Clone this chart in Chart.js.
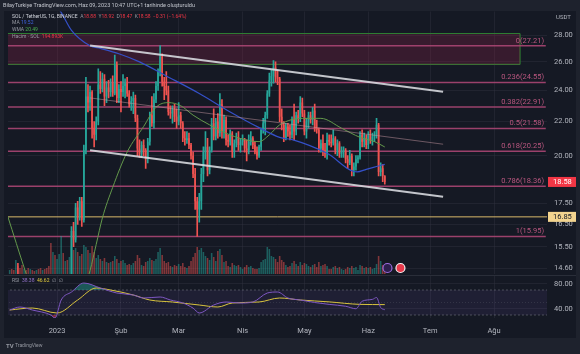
<!DOCTYPE html>
<html>
<head>
<meta charset="utf-8">
<script src="https://cdn.jsdelivr.net/npm/chart.js@4.4.0/dist/chart.umd.min.js"></script>
<style>
  html, body { margin: 0; padding: 0; background: #1e222d; }
  #wrap { position: relative; width: 580px; height: 354px; overflow: hidden; }
  #wrap canvas { position: absolute; left: 0; top: 0; }
</style>
</head>
<body>
<div id="wrap">
  <canvas id="priceChart" width="580" height="354"></canvas>
  <canvas id="rsiChart" width="580" height="354"></canvas>
</div>
<script>
// day 0 = 1 Jan 2023, first candle = 9 Dec 2022
const startDay = -23;
const monthDays = [0, 31, 59, 90, 120, 151, 181, 212];
const monthLabels = ["2023", "Şub", "Mar", "Nis", "May", "Haz", "Tem", "Ağu"];
const priceTicks = [28, 26, 24, 22, 20, 17.5, 16.5, 15.5, 14.6];
const rsiTicks = [80, 40];

const opens = [
  13.5, 13.7, 13.6, 13.4, 14.1, 14.0, 13.3, 12.1, 12.6, 12.2, 11.6, 11.9, 11.7, 11.6, 11.7, 11.6, 11.4, 11.5, 11.1, 10.5, 10.0, 9.4, 10.1,
  9.96, 10.0, 11.3, 13.3, 13.0, 13.4, 13.3, 13.6, 16.2, 15.8,
  17.3, 16.9, 17.6, 16.7, 20.3, 23.6, 23.2, 23.9, 21.6, 21.2,
  22.0, 24.4, 24.1, 24.8, 23.6, 24.2, 23.9, 24.5, 23.8, 25.8,
  23.5, 24.1, 23.9, 24.3, 24.5, 23.8, 23.1, 23.3, 23.5, 22.2,
  20.4, 20.1, 20.6, 20.3, 19.8, 20.8, 22.4, 21.9, 23.4, 24.3,
  25.3, 26.4, 24.6, 24.3, 24.0, 22.6, 22.5, 22.8, 22.3, 22.0,
  22.4, 21.9, 21.0, 20.9, 21.0, 20.6, 20.0, 19.0, 17.6, 17.2,
  17.6, 19.0, 20.2, 20.5, 19.2, 20.3, 21.9, 21.1, 22.0, 21.3,
  23.1, 21.4, 22.1, 20.9, 20.8, 21.3, 20.2, 20.7, 21.0, 20.6,
  20.8, 20.9, 20.4, 20.3, 20.8, 21.0, 20.6, 20.2, 20.0, 20.5,
  21.5, 21.9, 22.4, 23.8, 24.7, 25.0, 25.6, 24.9, 24.8, 22.3,
  21.8, 21.0, 21.7, 21.4, 21.2, 22.1, 21.4, 22.4, 22.2, 23.2,
  22.5, 21.4, 22.0, 22.4, 22.1, 22.7, 21.6, 21.5, 20.4, 20.7,
  20.3, 20.1, 20.9, 20.8, 20.7, 21.0, 20.3, 20.7, 20.1, 20.2,
  20.3, 19.8, 19.6, 20.0, 19.2, 19.4, 19.8, 19.9, 21.2, 20.8,
  21.0, 20.6, 21.2, 20.9, 21.1, 21.2, 21.8, 19.1, 19.3, 18.88
];
const highs = [
  14.0, 13.9, 13.7, 14.3, 14.8, 14.2, 13.4, 12.7, 12.8, 12.3, 12.0, 12.1, 11.9, 11.8, 11.8, 11.7, 11.6, 11.6, 11.2, 10.6, 10.1, 10.4, 10.3,
  10.4, 11.5, 13.5, 13.9, 13.6, 13.5, 13.8, 16.4, 16.6, 17.5,
  17.6, 17.8, 17.8, 20.6, 24.9, 24.4, 24.3, 24.0, 22.0, 22.3,
  25.5, 25.3, 25.2, 25.1, 24.6, 24.7, 24.8, 25.0, 26.5, 26.0,
  24.4, 24.6, 25.1, 24.8, 24.9, 24.0, 23.6, 23.9, 23.7, 22.4,
  20.9, 20.8, 20.9, 20.4, 21.0, 22.6, 23.6, 23.8, 24.6, 25.5,
  27.21, 26.6, 24.9, 25.3, 24.3, 23.0, 23.0, 23.1, 22.8, 23.2,
  22.6, 22.0, 21.4, 21.4, 21.3, 20.7, 20.2, 19.3, 17.8, 18.0,
  19.3, 20.5, 21.4, 21.0, 20.5, 22.2, 22.8, 22.2, 22.5, 23.8,
  23.4, 22.4, 22.3, 21.2, 21.5, 21.4, 20.9, 21.3, 21.4, 21.0,
  21.2, 21.0, 20.9, 21.2, 21.4, 21.1, 20.8, 20.5, 20.6, 21.6,
  22.2, 22.6, 24.0, 25.2, 25.4, 26.1, 26.0, 25.4, 24.9, 22.8,
  22.0, 21.9, 21.9, 21.8, 22.3, 23.1, 22.6, 22.7, 23.6, 23.5,
  22.7, 22.2, 22.6, 22.6, 22.9, 23.1, 22.1, 21.6, 20.9, 21.2,
  20.7, 21.3, 21.2, 21.2, 21.5, 21.1, 20.9, 20.8, 20.5, 20.5,
  20.4, 20.0, 20.3, 20.1, 19.6, 20.0, 20.0, 21.4, 21.5, 21.3,
  21.2, 21.4, 21.5, 21.3, 21.4, 22.2, 21.9, 19.6, 19.5, 18.92
];
const lows = [
  13.4, 13.4, 13.2, 13.3, 13.8, 13.1, 11.9, 11.9, 12.1, 11.4, 11.5, 11.6, 11.5, 11.4, 11.5, 11.2, 11.2, 10.9, 10.3, 9.8, 8.0, 9.2, 9.6,
  9.9, 9.98, 11.2, 12.4, 12.8, 12.9, 13.2, 13.5, 15.5, 15.7,
  16.5, 16.7, 16.4, 16.6, 20.1, 22.6, 22.7, 21.0, 20.5, 20.9,
  21.8, 23.8, 23.9, 23.0, 23.2, 23.5, 23.6, 23.6, 23.7, 23.2,
  23.2, 22.6, 23.6, 23.5, 23.6, 22.9, 22.7, 22.5, 22.0, 20.0,
  19.9, 19.9, 20.0, 19.3, 19.6, 20.6, 21.7, 21.6, 23.2, 24.0,
  25.0, 24.3, 23.4, 23.7, 22.4, 22.2, 21.9, 22.0, 21.6, 21.8,
  21.6, 20.8, 20.6, 20.7, 20.4, 19.8, 18.8, 17.2, 15.95, 16.6,
  17.2, 18.6, 19.8, 18.9, 19.0, 20.2, 20.9, 20.9, 21.0, 21.1,
  21.0, 21.0, 20.6, 20.5, 20.6, 19.9, 19.9, 20.5, 20.3, 20.2,
  20.6, 20.2, 19.7, 20.1, 20.6, 20.4, 20.1, 19.8, 19.9, 20.3,
  21.3, 21.2, 22.2, 23.6, 24.3, 24.5, 24.6, 24.4, 22.0, 21.5,
  20.8, 20.9, 21.1, 20.9, 21.0, 20.9, 21.2, 21.9, 22.0, 22.3,
  21.2, 21.0, 21.6, 21.9, 21.8, 21.4, 21.3, 20.2, 20.2, 20.0,
  19.9, 19.8, 20.6, 20.5, 20.6, 20.1, 20.0, 19.9, 19.9, 19.9,
  19.6, 19.3, 19.5, 18.9, 18.9, 19.2, 19.6, 19.8, 20.5, 20.5,
  20.4, 20.4, 20.7, 20.6, 20.8, 21.0, 18.9, 18.9, 18.6, 18.47
];
const closes = [
  13.7, 13.6, 13.4, 14.1, 14.0, 13.3, 12.1, 12.6, 12.2, 11.6, 11.9, 11.7, 11.6, 11.7, 11.6, 11.4, 11.5, 11.1, 10.5, 10.0, 9.4, 10.1, 9.96,
  10.0, 11.3, 13.3, 13.0, 13.4, 13.3, 13.6, 16.2, 15.8, 17.3,
  16.9, 17.6, 16.7, 20.3, 23.6, 23.2, 23.9, 21.6, 21.2, 22.0,
  24.4, 24.1, 24.8, 23.6, 24.2, 23.9, 24.5, 23.8, 25.8, 23.5,
  24.1, 23.9, 24.3, 24.5, 23.8, 23.1, 23.3, 23.5, 22.2, 20.4,
  20.1, 20.6, 20.3, 19.8, 20.8, 22.4, 21.9, 23.4, 24.3, 25.3,
  26.4, 24.6, 24.3, 24.0, 22.6, 22.5, 22.8, 22.3, 22.0, 22.4,
  21.9, 21.0, 20.9, 21.0, 20.6, 20.0, 19.0, 17.6, 17.2, 17.6,
  19.0, 20.2, 20.5, 19.2, 20.3, 21.9, 21.1, 22.0, 21.3, 23.1,
  21.4, 22.1, 20.9, 20.8, 21.3, 20.2, 20.7, 21.0, 20.6, 20.8,
  20.9, 20.4, 20.3, 20.8, 21.0, 20.6, 20.2, 20.0, 20.5, 21.5,
  21.9, 22.4, 23.8, 24.7, 25.0, 25.6, 24.9, 24.8, 22.3, 21.8,
  21.0, 21.7, 21.4, 21.2, 22.1, 21.4, 22.4, 22.2, 23.2, 22.5,
  21.4, 22.0, 22.4, 22.1, 22.7, 21.6, 21.5, 20.4, 20.7, 20.3,
  20.1, 20.9, 20.8, 20.7, 21.0, 20.3, 20.7, 20.1, 20.2, 20.3,
  19.8, 19.6, 20.0, 19.2, 19.4, 19.8, 19.9, 21.2, 20.8, 21.0,
  20.6, 21.2, 20.9, 21.1, 21.2, 21.8, 19.1, 19.3, 18.89, 18.58
];
// volume, thousands of SOL
const volumes = [
  160, 200, 160, 560, 320, 240, 360, 200, 160, 240, 200, 160, 120, 160, 200, 240, 160, 200, 240, 320, 1240, 880, 760,
  600, 800, 1520, 840, 520, 560, 680, 1080, 960, 1040,
  880, 720, 800, 1160, 1080, 960, 840, 1120, 880, 640,
  760, 600, 520, 640, 480, 440, 480, 520, 720, 600,
  440, 520, 560, 440, 360, 400, 360, 440, 520, 760,
  640, 360, 320, 480, 520, 640, 560, 520, 600, 880,
  1040, 760, 520, 440, 480, 320, 280, 360, 320, 400,
  320, 440, 280, 240, 320, 520, 680, 840, 1080, 960,
  1040, 880, 720, 640, 560, 840, 680, 520, 920, 1000,
  760, 480, 520, 320, 280, 440, 360, 320, 360, 280,
  200, 280, 360, 280, 320, 240, 200, 200, 240, 480,
  560, 600, 1080, 1000, 720, 680, 600, 480, 720, 560,
  480, 360, 280, 320, 440, 520, 400, 320, 480, 360,
  440, 400, 320, 280, 360, 400, 280, 480, 320, 360,
  400, 320, 200, 200, 280, 320, 240, 280, 200, 160,
  200, 280, 240, 320, 240, 280, 160, 360, 320, 240,
  280, 240, 280, 200, 240, 400, 720, 520, 360, 194.893
];

const maDays = [-24, 1.5, 7, 16, 21, 30, 40, 53, 69, 84, 98.5, 108, 114.5, 131, 145.6, 150, 155, 159];
const maValues = [35.5, 30.0, 28.4, 27.2, 27.0, 26.6, 26.0, 25.0, 23.8, 22.6, 21.6, 21.05, 20.9, 20.13, 19.11, 19.25, 19.4, 19.52];
const wmaDays = [-24, -15.5, -8, 0, 8, 16, 19, 22, 27, 34, 42, 48, 54, 60, 66, 74, 86, 98, 103, 108, 119, 128, 138, 147, 154, 159];
const wmaValues = [16.9, 14.5, 12.8, 11.6, 12.6, 14.5, 15.6, 16.8, 18.3, 20.2, 21.7, 22.9, 23.2, 23.0, 22.4, 21.8, 21.1, 20.8, 21.2, 21.8, 22.2, 22.2, 21.6, 21.05, 20.8, 20.49];

const rsiDays = [-23, -18, -12, -3, -1, 2, 7, 13, 21, 29, 37, 42, 50, 55, 61, 66, 69, 76, 82, 89, 95, 102, 107, 112, 118, 125, 132, 140, 145, 148, 153, 155, 157, 159];
const rsiValues = [38, 42.8, 38, 30, 25.2, 54, 66.8, 81.2, 73.2, 65.2, 62, 57.2, 58.8, 54, 49.2, 41, 33.2, 46, 50.8, 49.2, 50.8, 65.2, 66.8, 57.2, 54, 50, 47, 44, 40, 52, 55, 58, 42, 38.38];
const rsiMaDays = [-23, -12, 0, 10, 19, 26, 37, 45, 56, 69, 78, 85, 98, 108, 118, 132, 147, 159];
const rsiMaValues = [38, 41.2, 33.2, 54, 73.2, 70, 62, 54, 50.8, 46, 42.8, 49.2, 50.8, 57.2, 54, 51, 47, 46.62];

const fibRatios = [0, 0.236, 0.382, 0.5, 0.618, 0.786, 1];
const fibPrices = [27.21, 24.55, 22.91, 21.58, 20.25, 18.36, 15.95];
const fibEndDay = 237.1;
const supportPrice = 16.85;
const boxDays = [-30, 224.6];
const boxPrices = [28.15, 25.82];
const channelDays = [16, 187.3];
const upperChannel = [27.22, 23.91];
const midChannel = [23.51, 20.65];
const lowerChannel = [20.30, 17.83];
const eventDays = [160.3, 166.6];
const eventLevel = 240;

// view
const xMin = -23.8, xMax = 237.7;
const priceMin = 14.36, priceMax = 29.94;
const volMax = 10520;
const rsiMin = 25.2, rsiMax = 92.4;

const FONT = "Roboto, 'DejaVu Sans', sans-serif";
const UP = "#26a69a", DOWN = "#ef5350";
const AXIS_TEXT = "#b2b5be";
const GRID = "rgba(48,52,64,0.45)";
Chart.defaults.font.family = FONT;

const days = closes.map((_, i) => startDay + i);
const isUp = (i) => closes[i] >= opens[i];
const zip = (xs, ys) => xs.map((x, i) => ({ x, y: ys[i] }));
const hLine = (y, from, to) => [{ x: from, y }, { x: to, y }];
const monthTicks = (scale) => { scale.ticks = monthDays.map((v) => ({ value: v })); };

function drawRuns(ctx, x, y, size, runs) {
  ctx.font = size + "px " + FONT;
  ctx.textAlign = "left";
  ctx.textBaseline = "middle";
  runs.forEach(([text, color]) => {
    ctx.fillStyle = color;
    ctx.fillText(text, x, y);
    x += ctx.measureText(text).width;
  });
}

const last = closes.length - 1;
const change = closes[last] - closes[last - 1];

const pricePlugin = {
  id: "priceDecor",
  beforeDraw(chart) {
    const c = chart.ctx;
    c.save();
    c.fillStyle = "#1e222d";
    c.fillRect(0, 0, chart.width, chart.height);
    c.fillStyle = "#151924";
    c.fillRect(4, 11, 572, 327);
    c.restore();
  },
  afterDatasetsDraw(chart) {
    const c = chart.ctx, area = chart.chartArea, yS = chart.scales.y;
    c.save();
    c.font = "7.5px " + FONT;
    c.textAlign = "right";
    c.textBaseline = "alphabetic";
    c.fillStyle = "#b9567f";
    fibPrices.forEach((p, i) => {
      c.fillText(fibRatios[i] + "(" + p.toFixed(2) + ")", area.right - 3, yS.getPixelForValue(p) - 3);
    });
    c.restore();
  },
  afterDraw(chart) {
    const c = chart.ctx, area = chart.chartArea, yS = chart.scales.y;
    c.save();
    // price tags on the axis
    const tag = (price, bg, fg) => {
      const y = yS.getPixelForValue(price);
      c.fillStyle = bg;
      c.fillRect(area.right + 1, y - 5, 28, 10);
      c.fillStyle = fg;
      c.font = "7.5px " + FONT;
      c.textAlign = "left";
      c.textBaseline = "middle";
      c.fillText(price.toFixed(2), area.right + 6, y + 0.5);
    };
    tag(supportPrice, "#f3d48f", "#131722");
    tag(closes[last], "#f23645", "#ffffff");

    drawRuns(c, 556, 17, 6, [["USDT", AXIS_TEXT]]);
    drawRuns(c, 3, 6, 5.5, [["BilayTurkiye TradingView.com, Haz 09, 2023 10:47 UTC+1 tarihinde oluşturuldu", "#c3c6ce"]]);
    const red = "#f23645", gray = "#9598a1";
    drawRuns(c, 12, 16.5, 5, [
      ["SOL / TetherUS, 1G, BINANCE  ", "#d1d4dc"],
      ["A", gray], [opens[last].toFixed(2) + "  ", red],
      ["Y", gray], [highs[last].toFixed(2) + "  ", red],
      ["D", gray], [lows[last].toFixed(2) + "  ", red],
      ["K", gray], [closes[last].toFixed(2) + "  ", red],
      [(change < 0 ? "−" : "+") + Math.abs(change).toFixed(2) + " (" + (change < 0 ? "−" : "+") + Math.abs(change / closes[last - 1] * 100).toFixed(2) + "%)", red]
    ]);
    drawRuns(c, 12, 23.2, 5, [["MA ", gray], [maValues[maValues.length - 1].toFixed(2), "#3f64e0"]]);
    drawRuns(c, 12, 29.8, 5, [["WMA ", gray], [wmaValues[wmaValues.length - 1].toFixed(2), "#4caf50"]]);
    drawRuns(c, 12, 36.4, 5, [["Hacim · SOL  ", gray], [volumes[last].toFixed(3) + "K", red]]);

    c.font = "bold 6px " + FONT;
    c.fillStyle = "#9598a1";
    c.textBaseline = "middle";
    c.fillText("TV", 6, 346);
    drawRuns(c, 15, 346, 5, [["TradingView", "#9598a1"]]);
    c.restore();
  }
};

const barColor = (up, down) => (ctx) => (isUp(ctx.dataIndex) ? up : down);

new Chart(document.getElementById("priceChart"), {
  data: {
    datasets: [
      {
        type: "line", data: hLine(boxPrices[0], boxDays[0], boxDays[1]),
        borderColor: "#2e7d32", borderWidth: 1.2, pointRadius: 0,
        fill: "+1", backgroundColor: "rgba(136,32,68,0.3)", order: 100
      },
      {
        type: "line", data: hLine(boxPrices[1], boxDays[0], boxDays[1]),
        borderColor: "#2e7d32", borderWidth: 1.2, pointRadius: 0, fill: false, order: 100
      },
      {
        type: "line", data: [{ x: boxDays[1], y: boxPrices[1] }, { x: boxDays[1], y: boxPrices[0] }],
        borderColor: "#2e7d32", borderWidth: 1.2, pointRadius: 0, fill: false, order: 100
      },
      ...fibPrices.map((p) => ({
        type: "line", data: hLine(p, xMin - 1, fibEndDay),
        borderColor: "rgba(170,70,115,0.9)", borderWidth: 1.5, pointRadius: 0, fill: false, order: 90
      })),
      {
        type: "line", data: hLine(supportPrice, xMin - 1, xMax + 1),
        borderColor: "#d9b96a", borderWidth: 1, pointRadius: 0, fill: false, order: 89
      },
      {
        type: "bar", yAxisID: "yVol",
        data: days.map((d, i) => ({ x: d, y: volumes[i] })),
        backgroundColor: barColor("rgba(38,166,154,0.5)", "rgba(239,83,80,0.5)"),
        grouped: false, categoryPercentage: 0.8, barPercentage: 0.95, order: 80
      },
      {
        type: "bar",
        data: days.map((d, i) => ({ x: d, y: [lows[i], highs[i]] })),
        backgroundColor: barColor(UP, DOWN),
        grouped: false, barThickness: 1, order: 50
      },
      {
        type: "bar",
        data: days.map((d, i) => ({ x: d, y: [opens[i], closes[i]] })),
        backgroundColor: barColor(UP, DOWN),
        grouped: false, categoryPercentage: 0.8, barPercentage: 0.95, minBarLength: 0.8, order: 49
      },
      {
        type: "line", data: zip(maDays, maValues), borderColor: "#3450c8", borderWidth: 1.2,
        pointRadius: 0, cubicInterpolationMode: "monotone", fill: false, order: 40
      },
      {
        type: "line", data: zip(wmaDays, wmaValues), borderColor: "#64994c", borderWidth: 1,
        pointRadius: 0, cubicInterpolationMode: "monotone", fill: false, order: 41
      },
      {
        type: "line", data: zip(channelDays, midChannel), borderColor: "rgba(196,150,160,0.5)",
        borderWidth: 1, pointRadius: 0, fill: false, order: 6
      },
      {
        type: "line", data: zip(channelDays, upperChannel), borderColor: "rgba(214,216,222,0.9)",
        borderWidth: 2, pointRadius: 0, fill: false, order: 5
      },
      {
        type: "line", data: zip(channelDays, lowerChannel), borderColor: "rgba(214,216,222,0.9)",
        borderWidth: 2, pointRadius: 0, fill: false, order: 5
      },
      {
        type: "line", yAxisID: "yVol", showLine: false,
        data: eventDays.map((d) => ({ x: d, y: eventLevel })),
        pointRadius: 4.5, pointBorderWidth: 1.2,
        pointBackgroundColor: ["#2c1f4d", "#e8394b"], pointBorderColor: ["#9c6ade", "#f4f4f4"], order: 1
      }
    ]
  },
  options: {
    responsive: false, animation: false, devicePixelRatio: 1, events: [],
    layout: { padding: { left: 8, right: 0, top: 11, bottom: 80 } },
    plugins: { legend: { display: false }, tooltip: { enabled: false } },
    scales: {
      x: {
        type: "linear", min: xMin, max: xMax, offset: false,
        afterBuildTicks: monthTicks,
        afterFit: (s) => { s.height = 0; },
        ticks: { display: false },
        grid: { color: GRID, drawTicks: false, offset: false },
        border: { display: false }
      },
      y: {
        type: "logarithmic", position: "right", min: priceMin, max: priceMax, beginAtZero: false,
        afterBuildTicks: (s) => { s.ticks = priceTicks.map((v) => ({ value: v })); },
        afterFit: (s) => { s.width = 33; },
        ticks: { color: AXIS_TEXT, font: { size: 7.5 }, padding: 7, callback: (v) => Number(v).toFixed(2) },
        grid: { color: GRID, drawTicks: false },
        border: { display: false }
      },
      yVol: { type: "linear", display: false, min: 0, max: volMax }
    }
  },
  plugins: [pricePlugin]
});

const rsiPlugin = {
  id: "rsiDecor",
  beforeDraw(chart) {
    const c = chart.ctx;
    c.save();
    c.strokeStyle = "#2a2e39";
    c.lineWidth = 1;
    c.beginPath();
    c.moveTo(4, 275.5);
    c.lineTo(576, 275.5);
    c.stroke();
    c.restore();
  },
  afterDraw(chart) {
    const c = chart.ctx;
    c.save();
    drawRuns(c, 12, 280.5, 5, [
      ["RSI  ", "#9598a1"],
      [rsiValues[rsiValues.length - 1].toFixed(2) + "  ", "#9575cd"],
      [rsiMaValues[rsiMaValues.length - 1].toFixed(2) + "  ", "#e6cf3e"],
      ["∅  ∅", "#9598a1"]
    ]);
    c.restore();
  }
};

const rsiPts = zip(rsiDays, rsiValues);
new Chart(document.getElementById("rsiChart"), {
  data: {
    datasets: [
      {
        type: "line", data: hLine(70, xMin - 1, xMax + 1),
        borderColor: "rgba(120,123,134,0.55)", borderDash: [2, 2], borderWidth: 1, pointRadius: 0,
        fill: { target: { value: 30 }, above: "rgba(126,87,194,0.1)", below: "rgba(0,0,0,0)" }, order: 30
      },
      {
        type: "line", data: hLine(50, xMin - 1, xMax + 1),
        borderColor: "rgba(120,123,134,0.25)", borderDash: [1, 2], borderWidth: 1, pointRadius: 0,
        fill: false, order: 29
      },
      {
        type: "line", data: hLine(30, xMin - 1, xMax + 1),
        borderColor: "rgba(120,123,134,0.55)", borderDash: [2, 2], borderWidth: 1, pointRadius: 0,
        fill: false, order: 28
      },
      {
        type: "line", data: rsiPts, borderWidth: 0, pointRadius: 0, cubicInterpolationMode: "monotone",
        fill: { target: { value: 70 }, above: "rgba(38,166,154,0.45)", below: "rgba(0,0,0,0)" }, order: 20
      },
      {
        type: "line", data: rsiPts, borderWidth: 0, pointRadius: 0, cubicInterpolationMode: "monotone",
        fill: { target: { value: 30 }, above: "rgba(0,0,0,0)", below: "rgba(242,54,69,0.45)" }, order: 20
      },
      {
        type: "line", data: zip(rsiMaDays, rsiMaValues), borderColor: "#d9c43e", borderWidth: 1,
        pointRadius: 0, cubicInterpolationMode: "monotone", fill: false, order: 11
      },
      {
        type: "line", data: rsiPts, borderColor: "#7e57c2", borderWidth: 1,
        pointRadius: 0, cubicInterpolationMode: "monotone", fill: false, order: 10
      }
    ]
  },
  options: {
    responsive: false, animation: false, devicePixelRatio: 1, events: [],
    layout: { padding: { left: 8, right: 0, top: 276, bottom: 16 } },
    plugins: { legend: { display: false }, tooltip: { enabled: false } },
    scales: {
      x: {
        type: "linear", min: xMin, max: xMax, offset: false,
        afterBuildTicks: monthTicks,
        afterFit: (s) => { s.height = 20; },
        ticks: { color: AXIS_TEXT, font: { size: 7.5 }, padding: 9, maxRotation: 0, autoSkip: false,
                 callback: (v, i) => monthLabels[i] },
        grid: { color: GRID, drawTicks: false },
        border: { display: false }
      },
      y: {
        type: "linear", position: "right", min: rsiMin, max: rsiMax,
        afterBuildTicks: (s) => { s.ticks = rsiTicks.map((v) => ({ value: v })); },
        afterFit: (s) => { s.width = 33; },
        ticks: { color: AXIS_TEXT, font: { size: 7.5 }, padding: 7, callback: (v) => Number(v).toFixed(2) },
        grid: { color: GRID, drawTicks: false },
        border: { display: false }
      }
    }
  },
  plugins: [rsiPlugin]
});
</script>
</body>
</html>
